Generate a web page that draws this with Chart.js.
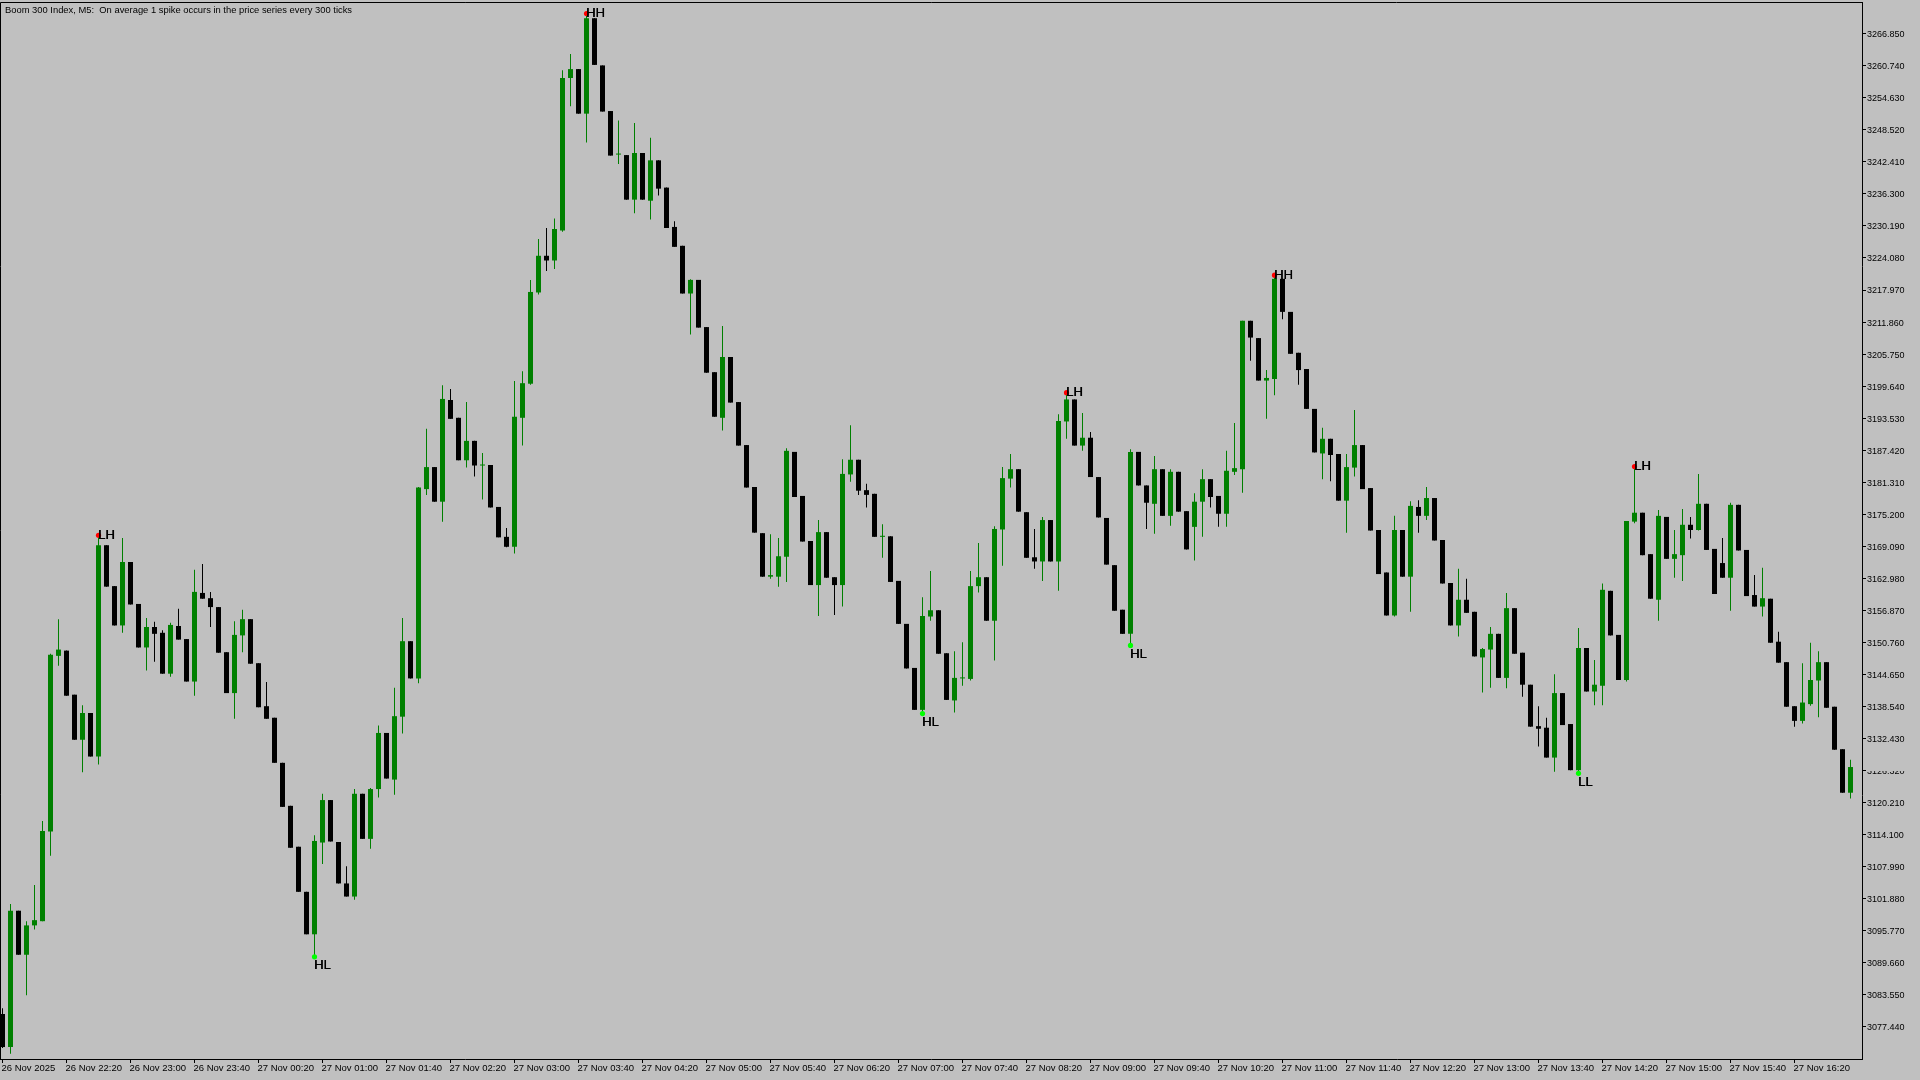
<!DOCTYPE html>
<html>
<head>
<meta charset="utf-8">
<title>Boom 300 Index, M5</title>
<script src="https://cdn.jsdelivr.net/npm/chart.js@4.4.1/dist/chart.umd.min.js"></script>
<style>
  html, body { margin: 0; padding: 0; background: #c0c0c0; overflow: hidden; }
  #wrap { width: 1920px; height: 1080px; }
</style>
</head>
<body>
<div id="wrap"><canvas id="chart" width="1920" height="1080"></canvas></div>
<script>
// chart data - M5 candles, 26 Nov 21:40 -> 27 Nov 16:55
const chartTitle = 'Boom 300 Index, M5:  On average 1 spike occurs in the price series every 300 ticks';

const timeLabels = ['26 Nov 2025', '26 Nov 22:20', '26 Nov 23:00', '26 Nov 23:40', '27 Nov 00:20', '27 Nov 01:00',
  '27 Nov 01:40', '27 Nov 02:20', '27 Nov 03:00', '27 Nov 03:40', '27 Nov 04:20', '27 Nov 05:00', '27 Nov 05:40',
  '27 Nov 06:20', '27 Nov 07:00', '27 Nov 07:40', '27 Nov 08:20', '27 Nov 09:00', '27 Nov 09:40', '27 Nov 10:20',
  '27 Nov 11:00', '27 Nov 11:40', '27 Nov 12:20', '27 Nov 13:00', '27 Nov 13:40', '27 Nov 14:20', '27 Nov 15:00',
  '27 Nov 15:40', '27 Nov 16:20'];
const timeTickBars = [0, 8, 16, 24, 32, 40, 48, 56, 64, 72, 80, 88, 96, 104, 112, 120, 128, 136, 144, 152,
  160, 168, 176, 184, 192, 200, 208, 216, 224];

const priceTickLabels = ['3077.440', '3083.550', '3089.660', '3095.770', '3101.880', '3107.990', '3114.100',
  '3120.210', '3126.320', '3132.430', '3138.540', '3144.650', '3150.760', '3156.870', '3162.980', '3169.090',
  '3175.200', '3181.310', '3187.420', '3193.530', '3199.640', '3205.750', '3211.860', '3217.970', '3224.080',
  '3230.190', '3236.300', '3242.410', '3248.520', '3254.630', '3260.740', '3266.850'];

const opens = [
  3079.9, 3073.6, 3099.6, 3091.2, 3096.8, 3097.6, 3114.7, 3148.2, 3149.2, 3140.8,
  3132.2, 3137.3, 3129.0, 3169.3, 3161.5, 3154.0, 3166.1, 3158.1, 3149.8, 3153.7,
  3152.6, 3144.8, 3153.9, 3151.4, 3143.3, 3160.2, 3159.2, 3157.5, 3148.9, 3141.1,
  3152.1, 3155.2, 3146.8, 3138.6, 3136.4, 3127.8, 3119.6, 3111.8, 3103.2, 3095.1,
  3112.6, 3120.7, 3112.7, 3104.8, 3102.3, 3121.9, 3113.3, 3122.8, 3133.5, 3124.6,
  3136.6, 3151.0, 3143.9, 3180.0, 3184.2, 3177.6, 3197.0, 3193.6, 3185.5, 3189.2,
  3184.5, 3184.6, 3176.6, 3170.9, 3169.0, 3193.6, 3200.1, 3217.5, 3224.5, 3223.6,
  3229.3, 3258.4, 3260.1, 3251.6, 3269.8, 3260.8, 3252.1, 3243.8, 3243.7, 3235.2,
  3244.1, 3235.0, 3242.7, 3237.5, 3230.0, 3226.4, 3217.3, 3219.9, 3210.9, 3202.3,
  3193.6, 3205.2, 3196.6, 3188.4, 3180.4, 3171.6, 3163.3, 3163.3, 3167.1, 3187.1,
  3178.7, 3170.1, 3161.7, 3171.8, 3163.2, 3161.7, 3182.8, 3185.6, 3179.8, 3179.1,
  3170.9, 3171.0, 3162.5, 3154.3, 3145.9, 3137.9, 3155.7, 3156.9, 3148.7, 3139.7,
  3143.9, 3143.8, 3161.5, 3163.2, 3154.9, 3172.3, 3182.0, 3183.8, 3175.6, 3167.0,
  3166.2, 3174.1, 3166.2, 3192.9, 3197.1, 3188.3, 3189.8, 3182.3, 3174.5, 3165.5,
  3157.0, 3152.4, 3187.1, 3180.7, 3177.2, 3183.8, 3174.9, 3183.3, 3175.8, 3172.8,
  3177.6, 3181.9, 3178.7, 3175.3, 3183.3, 3183.8, 3212.1, 3208.8, 3200.7, 3201.0,
  3220.1, 3213.8, 3206.0, 3202.9, 3195.3, 3186.8, 3189.6, 3186.7, 3177.8, 3184.1,
  3188.4, 3180.2, 3172.2, 3164.1, 3155.9, 3172.2, 3163.3, 3176.6, 3174.9, 3178.3,
  3170.3, 3162.1, 3154.0, 3158.9, 3156.6, 3147.9, 3149.4, 3152.4, 3144.0, 3157.3,
  3148.8, 3142.7, 3134.8, 3134.5, 3128.8, 3141.1, 3135.2, 3126.4, 3149.7, 3141.4,
  3142.5, 3160.6, 3152.2, 3143.6, 3173.8, 3175.5, 3167.6, 3158.9, 3174.7, 3166.7,
  3167.4, 3173.2, 3172.2, 3177.2, 3168.6, 3165.9, 3163.1, 3177.0, 3168.4, 3159.8,
  3157.6, 3159.1, 3150.9, 3147.0, 3138.6, 3135.8, 3139.0, 3143.5, 3147.0, 3138.5,
  3130.4, 3122.1];

const highs = [
  3081.0, 3100.9, 3099.6, 3097.6, 3104.5, 3116.7, 3148.6, 3155.2, 3149.2, 3140.8,
  3138.8, 3137.3, 3171.2, 3169.3, 3161.5, 3170.7, 3166.1, 3158.1, 3155.4, 3154.7,
  3153.1, 3154.5, 3157.2, 3151.4, 3164.6, 3165.7, 3160.4, 3157.5, 3148.9, 3154.8,
  3157.0, 3155.2, 3146.8, 3143.2, 3136.4, 3127.8, 3119.6, 3111.8, 3103.2, 3114.0,
  3121.9, 3120.7, 3112.7, 3108.1, 3122.8, 3121.9, 3123.0, 3134.9, 3133.5, 3142.1,
  3155.4, 3151.0, 3180.4, 3191.5, 3184.2, 3199.8, 3199.1, 3193.6, 3196.6, 3189.2,
  3186.9, 3184.6, 3176.6, 3172.6, 3200.6, 3202.5, 3219.9, 3227.7, 3229.8, 3231.6,
  3259.9, 3263.0, 3260.1, 3270.7, 3269.8, 3260.8, 3252.1, 3250.3, 3243.7, 3249.8,
  3244.1, 3247.0, 3242.7, 3237.5, 3231.1, 3226.4, 3220.0, 3219.9, 3210.9, 3202.3,
  3211.1, 3205.2, 3196.6, 3188.4, 3180.4, 3171.6, 3171.4, 3170.7, 3187.8, 3187.1,
  3178.7, 3170.1, 3174.1, 3171.8, 3163.2, 3185.7, 3192.2, 3185.6, 3181.0, 3179.1,
  3173.3, 3171.0, 3162.5, 3154.3, 3145.9, 3159.4, 3164.4, 3156.9, 3148.7, 3149.1,
  3150.8, 3164.4, 3169.7, 3163.2, 3172.9, 3184.2, 3186.7, 3183.8, 3175.6, 3172.4,
  3174.7, 3174.1, 3194.3, 3198.4, 3197.1, 3194.5, 3190.9, 3182.3, 3174.5, 3165.5,
  3157.0, 3187.6, 3187.1, 3180.7, 3186.3, 3183.8, 3183.8, 3183.3, 3175.8, 3179.2,
  3183.8, 3181.9, 3178.7, 3187.3, 3192.6, 3212.1, 3212.1, 3208.8, 3202.7, 3220.8,
  3220.1, 3213.8, 3206.0, 3202.9, 3195.3, 3191.7, 3189.6, 3186.7, 3186.7, 3195.1,
  3188.4, 3180.2, 3172.2, 3164.1, 3174.9, 3172.2, 3177.7, 3177.9, 3180.4, 3178.3,
  3170.3, 3162.1, 3164.8, 3162.9, 3156.6, 3149.7, 3153.7, 3152.4, 3160.2, 3157.3,
  3148.8, 3142.7, 3138.6, 3136.4, 3144.7, 3141.1, 3135.2, 3153.5, 3149.7, 3147.4,
  3162.0, 3160.6, 3152.2, 3173.9, 3184.3, 3175.5, 3167.6, 3176.0, 3174.7, 3172.2,
  3176.2, 3174.7, 3182.9, 3177.2, 3168.6, 3170.7, 3177.4, 3177.0, 3168.4, 3163.6,
  3165.0, 3159.1, 3152.8, 3147.0, 3138.6, 3146.8, 3150.7, 3149.1, 3147.0, 3138.5,
  3130.4, 3128.4];

const lows = [
  3073.4, 3072.3, 3091.2, 3083.5, 3096.0, 3097.6, 3110.1, 3146.3, 3140.6, 3132.2,
  3126.0, 3129.0, 3127.5, 3161.4, 3154.0, 3152.6, 3158.0, 3149.8, 3145.4, 3147.1,
  3144.8, 3144.2, 3151.3, 3143.3, 3140.6, 3159.1, 3153.7, 3148.8, 3141.1, 3136.2,
  3148.9, 3146.7, 3138.4, 3136.2, 3127.8, 3119.4, 3111.6, 3103.2, 3095.1, 3090.8,
  3108.5, 3112.8, 3104.8, 3102.3, 3101.7, 3113.3, 3111.4, 3121.2, 3124.8, 3121.7,
  3133.4, 3143.9, 3143.0, 3178.9, 3177.6, 3173.8, 3193.4, 3185.5, 3184.1, 3182.4,
  3178.0, 3176.5, 3170.8, 3168.9, 3167.7, 3188.3, 3199.9, 3217.1, 3221.6, 3222.0,
  3229.1, 3253.0, 3251.6, 3246.1, 3260.9, 3252.0, 3243.6, 3242.0, 3235.2, 3232.6,
  3235.2, 3231.4, 3236.0, 3229.8, 3226.2, 3217.3, 3209.5, 3210.8, 3202.2, 3193.8,
  3191.2, 3196.5, 3188.3, 3180.3, 3171.7, 3163.3, 3162.9, 3161.4, 3162.3, 3178.5,
  3170.0, 3161.7, 3155.8, 3163.1, 3156.0, 3157.6, 3181.4, 3178.9, 3176.5, 3170.9,
  3166.9, 3162.3, 3154.3, 3145.8, 3137.9, 3137.2, 3154.9, 3148.6, 3139.8, 3137.4,
  3142.5, 3143.5, 3160.3, 3154.9, 3147.3, 3165.4, 3180.3, 3175.7, 3166.9, 3164.8,
  3162.5, 3166.2, 3160.6, 3189.6, 3188.3, 3187.3, 3182.3, 3174.6, 3165.6, 3156.8,
  3152.4, 3150.2, 3180.7, 3172.4, 3171.5, 3174.9, 3173.0, 3175.7, 3168.5, 3166.4,
  3170.9, 3176.5, 3172.8, 3172.8, 3182.7, 3179.3, 3204.5, 3200.7, 3193.4, 3197.9,
  3212.4, 3205.8, 3199.9, 3195.3, 3187.0, 3181.9, 3181.5, 3177.8, 3171.7, 3182.4,
  3180.0, 3172.1, 3163.8, 3155.9, 3155.7, 3163.3, 3156.6, 3171.7, 3174.1, 3170.2,
  3162.0, 3154.0, 3151.9, 3156.4, 3148.1, 3141.2, 3142.1, 3144.0, 3142.0, 3148.6,
  3140.4, 3134.7, 3130.9, 3128.8, 3126.1, 3135.0, 3126.4, 3125.8, 3141.4, 3138.8,
  3138.8, 3152.1, 3143.6, 3143.3, 3173.5, 3167.4, 3159.1, 3154.9, 3166.7, 3163.1,
  3162.5, 3170.6, 3172.1, 3168.4, 3160.0, 3163.1, 3156.8, 3168.3, 3159.6, 3157.6,
  3155.7, 3150.7, 3146.9, 3138.5, 3134.7, 3135.3, 3138.7, 3136.5, 3138.3, 3130.3,
  3122.1, 3121.0];

const closes = [
  3073.6, 3099.6, 3091.2, 3096.8, 3097.8, 3114.8, 3148.4, 3149.4, 3140.6, 3132.2,
  3137.3, 3129.0, 3169.3, 3161.4, 3154.0, 3166.1, 3158.0, 3149.8, 3153.7, 3152.4,
  3144.8, 3154.1, 3151.3, 3143.3, 3160.4, 3159.1, 3157.5, 3148.8, 3141.1, 3152.2,
  3155.2, 3146.7, 3138.4, 3136.2, 3127.8, 3119.4, 3111.6, 3103.2, 3095.1, 3112.9,
  3120.7, 3112.8, 3104.8, 3102.3, 3121.9, 3113.3, 3122.8, 3133.5, 3124.8, 3136.7,
  3151.0, 3143.9, 3180.3, 3184.2, 3177.6, 3197.2, 3193.4, 3185.5, 3189.2, 3184.5,
  3184.6, 3176.5, 3170.8, 3169.0, 3193.8, 3200.2, 3217.6, 3224.5, 3223.6, 3229.6,
  3258.4, 3260.1, 3251.6, 3269.8, 3260.9, 3252.0, 3243.6, 3243.9, 3235.2, 3244.1,
  3235.2, 3242.7, 3237.3, 3229.8, 3226.2, 3217.3, 3219.9, 3210.8, 3202.2, 3193.8,
  3205.2, 3196.5, 3188.3, 3180.3, 3171.7, 3163.3, 3163.6, 3167.2, 3187.3, 3178.5,
  3170.0, 3161.7, 3171.8, 3163.1, 3161.7, 3182.9, 3185.6, 3179.7, 3178.9, 3170.9,
  3171.1, 3162.3, 3154.3, 3145.8, 3137.9, 3155.8, 3156.9, 3148.6, 3139.8, 3144.0,
  3144.0, 3161.5, 3163.2, 3154.9, 3172.4, 3182.1, 3183.8, 3175.7, 3166.9, 3166.2,
  3174.1, 3166.2, 3193.0, 3197.1, 3188.3, 3189.8, 3182.3, 3174.6, 3165.6, 3156.8,
  3152.4, 3187.1, 3180.7, 3177.4, 3183.8, 3174.9, 3183.3, 3175.7, 3168.5, 3177.6,
  3181.9, 3178.5, 3175.3, 3183.5, 3184.0, 3212.1, 3208.9, 3200.7, 3201.2, 3220.1,
  3213.8, 3205.8, 3202.7, 3195.3, 3187.0, 3189.6, 3186.5, 3177.8, 3184.2, 3188.4,
  3180.0, 3172.1, 3163.8, 3155.9, 3172.2, 3163.3, 3176.8, 3174.9, 3178.3, 3170.2,
  3162.0, 3154.0, 3158.9, 3156.4, 3148.1, 3149.5, 3152.4, 3144.0, 3157.3, 3148.6,
  3142.7, 3134.7, 3134.3, 3128.8, 3141.1, 3135.0, 3126.4, 3149.7, 3141.4, 3142.7,
  3160.8, 3152.1, 3143.6, 3173.9, 3175.5, 3167.4, 3159.1, 3174.9, 3166.7, 3167.6,
  3173.2, 3172.2, 3177.2, 3168.4, 3160.0, 3163.1, 3177.0, 3168.3, 3159.6, 3157.6,
  3159.2, 3150.7, 3146.9, 3138.5, 3135.8, 3139.3, 3143.6, 3147.0, 3138.3, 3130.3,
  3122.1, 3127.0];

// swing points from the zigzag indicator
const swingBars = [12, 39, 73, 115, 133, 141, 159, 197, 204];
const swingTags = ['LH', 'HL', 'HH', 'HL', 'LH', 'HL', 'HH', 'LL', 'LH'];

const BULL = '#008000';
const BEAR = '#000000';
const BG = '#c0c0c0';
const FONT = '"Liberation Sans", Arial, sans-serif';

const isBull = closes.map((c, i) => c > opens[i]);
const candleColors = isBull.map(b => (b ? BULL : BEAR));
const wickData = opens.map((o, i) => ({ x: i, y: [lows[i], highs[i]] }));
const bodyData = opens.map((o, i) => ({ x: i, y: [Math.min(o, closes[i]), Math.max(o, closes[i])] }));

const bgPlugin = {
  id: 'bg',
  beforeDraw(chart) {
    const c = chart.ctx;
    c.save();
    c.fillStyle = BG;
    c.fillRect(0, 0, chart.width, chart.height);
    c.restore();
  }
};

const framePlugin = {
  id: 'frame',
  afterDraw(chart) {
    const c = chart.ctx;
    const a = chart.chartArea;
    c.save();
    c.strokeStyle = '#000';
    c.lineWidth = 1;
    c.beginPath();
    c.moveTo(a.left + 0.5, a.bottom);
    c.lineTo(a.left + 0.5, a.top + 0.5);
    c.lineTo(a.right, a.top + 0.5);
    c.stroke();
    // the (blank) current price tag sits over one axis label
    const py = chart.scales.y.getPixelForValue(closes[closes.length - 1]);
    c.fillStyle = BG;
    c.fillRect(a.right + 5, py - 6, 60, 10);
    // title
    c.fillStyle = '#000';
    c.font = '9.4px ' + FONT;
    c.textBaseline = 'middle';
    c.fillText(chartTitle, 5, 10);
    c.restore();
  }
};

const swingPlugin = {
  id: 'swings',
  afterDatasetsDraw(chart) {
    const c = chart.ctx;
    const { x, y } = chart.scales;
    c.save();
    c.font = '13px ' + FONT;
    c.textAlign = 'left';
    c.textBaseline = 'middle';
    swingBars.forEach((b, k) => {
      const tag = swingTags[k];
      const top = tag[1] === 'H';
      const px = x.getPixelForValue(b);
      const py = y.getPixelForValue(top ? highs[b] : lows[b]);
      c.fillStyle = top ? '#ff0000' : '#00ff00';
      c.beginPath();
      c.arc(px, py, 2.6, 0, Math.PI * 2);
      c.fill();
      c.fillStyle = '#000000';
      c.fillText(tag, px - 0.5, top ? py : py + 9);
      c.fillText(tag, px - 0.1, top ? py : py + 9);
    });
    c.restore();
  }
};

const ctx = document.getElementById('chart');
new Chart(ctx, {
  type: 'bar',
  data: {
    datasets: [
      { data: wickData, backgroundColor: candleColors, maxBarThickness: 1, order: 2 },
      { data: bodyData, backgroundColor: candleColors, maxBarThickness: 5, minBarLength: 1, order: 1 }
    ]
  },
  options: {
    responsive: false,
    animation: false,
    devicePixelRatio: 1,
    layout: { padding: { top: 2, left: 0, right: 0, bottom: 0 } },
    datasets: { bar: { grouped: false, borderWidth: 0, inflateAmount: 0, barPercentage: 1, categoryPercentage: 1 } },
    plugins: { legend: { display: false }, tooltip: { enabled: false }, title: { display: false } },
    scales: {
      x: {
        type: 'linear',
        bounds: 'data',
        offset: false,
        min: -0.3125,
        max: 232.4375,
        afterBuildTicks: s => { s.ticks = timeTickBars.map(v => ({ value: v })); },
        afterFit: s => { s.height = 21; s.paddingLeft = 0; s.paddingRight = 0; },
        ticks: {
          autoSkip: false, maxRotation: 0, minRotation: 0, align: 'start', labelOffset: -1, padding: 0,
          color: '#000', font: { family: FONT, size: 9.5 },
          callback: (v, i) => timeLabels[i]
        },
        grid: { drawOnChartArea: false, drawTicks: true, tickLength: 4, color: '#000', offset: false },
        border: { display: true, color: '#000' }
      },
      y: {
        position: 'right',
        bounds: 'data',
        beginAtZero: false,
        min: 3071.32,
        max: 3272.895,
        afterBuildTicks: s => { s.ticks = priceTickLabels.map(v => ({ value: parseFloat(v) })); },
        afterFit: s => { s.width = 58; s.paddingTop = 0; s.paddingBottom = 0; },
        ticks: {
          padding: 1, labelOffset: 1, color: '#000', font: { family: FONT, size: 9 },
          callback: (v, i) => priceTickLabels[i]
        },
        grid: { drawOnChartArea: false, drawTicks: true, tickLength: 4, color: '#000' },
        border: { display: true, color: '#000' }
      }
    }
  },
  plugins: [bgPlugin, framePlugin, swingPlugin]
});
</script>
</body>
</html>
